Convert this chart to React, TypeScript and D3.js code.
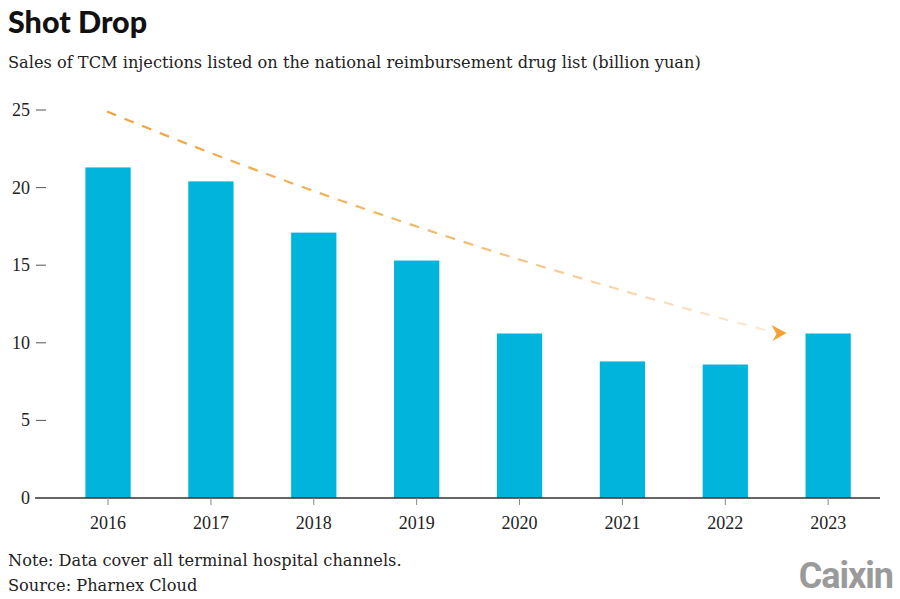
import * as d3 from 'd3';
import { useMemo } from 'react';

const years = ['2016', '2017', '2018', '2019', '2020', '2021', '2022', '2023'];
const sales = [21.3, 20.4, 17.1, 15.3, 10.6, 8.8, 8.6, 10.6];
const yTicks = [0, 5, 10, 15, 20, 25];

const W = 900;
const H = 599;
const AXIS = { left: 35, right: 880, top: 110, bottom: 498 };
const SERIF = '"Liberation Serif", "DejaVu Serif", serif';
const WIDE_SERIF = '"DejaVu Serif", serif';

export default function App() {
  const xScale = useMemo(
    () => d3.scaleBand().domain(years).range([56.6, 879.6]).paddingInner(0.56).paddingOuter(0.28),
    []
  );
  const yScale = useMemo(
    () => d3.scaleLinear().domain([0, 25]).range([AXIS.bottom, AXIS.top]),
    []
  );
  const bw = xScale.bandwidth();

  // trend arrow annotation, anchored to the scales
  const p0: [number, number] = [(xScale('2016') ?? 0) + bw / 2 - 1, yScale(24.9)];
  const p2: [number, number] = [(xScale('2023') ?? 0) - 33, yScale(10.7)];
  const ctrl: [number, number] = [(xScale('2019') ?? 0) + 13, yScale(16.9)];
  const path = d3.path();
  path.moveTo(p0[0], p0[1]);
  path.quadraticCurveTo(ctrl[0], ctrl[1], p2[0], p2[1]);

  const tip = [p2[0] + 14, p2[1] + 1];
  const head = `M${tip[0]},${tip[1]} L${tip[0] - 15},${tip[1] - 8} L${tip[0] - 10},${tip[1] + 1} L${tip[0] - 14},${tip[1] + 8} Z`;

  return (
    <svg width={W} height={H} style={{ position: 'absolute', left: 0, top: 0, background: '#fff' }}>
      <defs>
        <linearGradient id="fade" gradientUnits="userSpaceOnUse" x1={p0[0]} y1={p0[1]} x2={p2[0]} y2={p2[1]}>
          <stop offset="0" stopColor="#eea33a" stopOpacity={1} />
          <stop offset="0.55" stopColor="#f0ab4c" stopOpacity={0.8} />
          <stop offset="1" stopColor="#f5c58a" stopOpacity={0.35} />
        </linearGradient>
      </defs>

      <text x={8} y={33} fontFamily="Lato, sans-serif" fontWeight={900} fontSize={30.5} fill="#111">
        Shot Drop
      </text>
      <text x={8} y={68} fontFamily={WIDE_SERIF} fontSize={16.2} fill="#222">
        Sales of TCM injections listed on the national reimbursement drug list (billion yuan)
      </text>

      {/* y axis */}
      {yTicks.map((t) => (
        <g key={t}>
          <text x={30} y={yScale(t) + 6} textAnchor="end" fontFamily={SERIF} fontSize={18} fill="#222">
            {t}
          </text>
          {t > 0 && <line x1={36} x2={46} y1={yScale(t)} y2={yScale(t)} stroke="#555" strokeWidth={1} />}
        </g>
      ))}

      {/* bars */}
      {years.map((yr, i) => (
        <rect
          key={yr}
          x={xScale(yr)}
          y={yScale(sales[i])}
          width={bw}
          height={yScale(0) - yScale(sales[i])}
          fill="#00b4dc"
        />
      ))}

      {/* x axis */}
      <line x1={AXIS.left} x2={AXIS.right} y1={yScale(0)} y2={yScale(0)} stroke="#333" strokeWidth={1.5} />
      {years.map((yr) => {
        const cx = (xScale(yr) ?? 0) + bw / 2;
        return (
          <g key={yr}>
            <line x1={cx} x2={cx} y1={yScale(0)} y2={yScale(0) + 7} stroke="#888" strokeWidth={1} />
            <text x={cx} y={yScale(0) + 31} textAnchor="middle" fontFamily={SERIF} fontSize={18} fill="#222">
              {yr}
            </text>
          </g>
        );
      })}

      {/* trend arrow */}
      <path d={path.toString()} fill="none" stroke="url(#fade)" strokeWidth={2.2} strokeDasharray="10 9" />
      <path d={head} fill="#f5a233" />

      <text x={8} y={566} fontFamily={WIDE_SERIF} fontSize={16.2} fill="#222">
        Note: Data cover all terminal hospital channels.
      </text>
      <text x={8} y={591} fontFamily={WIDE_SERIF} fontSize={16.2} fill="#222">
        Source: Pharnex Cloud
      </text>
      <text x={893} y={588} textAnchor="end" fontFamily="Roboto, sans-serif" fontWeight={700} fontSize={36} fill="#9a9a9a" letterSpacing={-1}>
        Caixin
      </text>
    </svg>
  );
}
